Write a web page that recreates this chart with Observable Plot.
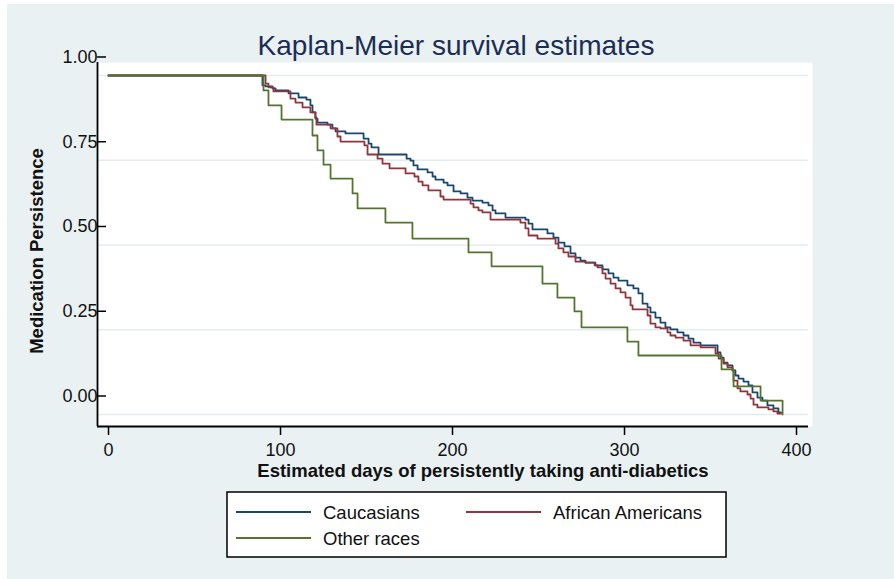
<!DOCTYPE html>
<html><head><meta charset="utf-8">
<script src="https://cdn.jsdelivr.net/npm/d3@7"></script>
<script src="https://cdn.jsdelivr.net/npm/@observablehq/plot@0.6"></script>
<style>
html,body{margin:0;padding:0;background:#fff;}
#bg{position:absolute;left:7px;top:4px;width:887px;height:575px;background:#eaf1f3;}
#chart{position:absolute;left:0;top:0;}
</style></head><body><div id="bg"></div><div id="chart"></div>
<script>
const seriesNames = ["Caucasians", "African Americans", "Other races"];
const seriesColors = ["#1a476f", "#90353b", "#55752f"];
const xTicks = [0, 100, 200, 300, 400];
const yTicks = [0, 0.25, 0.5, 0.75, 1];

const caucasiansDays = [0, 89.5, 91.3, 95.3, 97.1, 104.7, 110.5, 115.1, 117.4, 118.6, 120.3, 121.5, 127.3, 130.2, 132.0, 137.8, 148.3, 151.2, 152.9, 157.0, 173.3, 175.6, 177.3, 179.7, 185.5, 188.4, 190.1, 194.8, 197.1, 200.6, 204.7, 208.7, 211.6, 217.4, 220.9, 223.3, 225.0, 230.8, 242.4, 244.2, 246.5, 255.2, 258.7, 261.6, 265.1, 268.6, 271.5, 274.4, 277.3, 283.1, 287.2, 290.7, 293.6, 296.5, 301.7, 305.2, 308.1, 310.5, 313.4, 315.1, 318.0, 320.9, 323.8, 326.7, 330.8, 334.3, 337.2, 340.1, 344.2, 354.1, 355.8, 357.6, 359.9, 362.8, 364.5, 366.3, 369.2, 372.1, 374.4, 377.3, 380.2, 383.1, 386.6, 389.5, 391.0];
const caucasiansSurv = [1, 0.971, 0.968, 0.962, 0.956, 0.947, 0.935, 0.929, 0.912, 0.891, 0.873, 0.861, 0.855, 0.844, 0.835, 0.829, 0.814, 0.799, 0.788, 0.767, 0.755, 0.749, 0.735, 0.723, 0.714, 0.702, 0.693, 0.684, 0.676, 0.658, 0.652, 0.640, 0.631, 0.625, 0.617, 0.602, 0.593, 0.581, 0.575, 0.563, 0.546, 0.534, 0.522, 0.507, 0.496, 0.475, 0.463, 0.454, 0.448, 0.440, 0.428, 0.416, 0.404, 0.395, 0.381, 0.372, 0.357, 0.327, 0.316, 0.301, 0.286, 0.271, 0.257, 0.251, 0.242, 0.233, 0.224, 0.212, 0.204, 0.183, 0.168, 0.153, 0.145, 0.130, 0.115, 0.106, 0.097, 0.086, 0.065, 0.050, 0.041, 0.027, 0.018, 0.006, 0.006];

const africanDays = [0, 91.3, 93.0, 95.9, 105.8, 108.7, 112.8, 117.4, 120.3, 120.9, 129.1, 133.1, 134.9, 148.8, 150.6, 156.4, 159.3, 163.4, 172.7, 177.9, 180.2, 182.6, 186.0, 193.0, 194.8, 210.5, 212.2, 215.1, 217.4, 222.1, 239.5, 242.4, 244.2, 249.4, 259.9, 261.6, 264.5, 267.4, 271.5, 277.3, 282.6, 284.3, 287.2, 289.0, 291.9, 294.8, 297.7, 300.6, 303.5, 304.7, 313.4, 315.1, 318.0, 320.9, 325.0, 326.7, 329.7, 334.3, 338.4, 344.2, 352.9, 354.7, 357.6, 359.9, 362.8, 363.4, 365.7, 367.4, 371.5, 373.3, 375.0, 377.3, 383.7, 386.6, 388.9, 391.0];
const africanSurv = [1, 0.976, 0.965, 0.953, 0.932, 0.920, 0.906, 0.891, 0.876, 0.855, 0.844, 0.820, 0.805, 0.794, 0.767, 0.755, 0.740, 0.726, 0.711, 0.702, 0.687, 0.676, 0.661, 0.643, 0.634, 0.622, 0.611, 0.602, 0.596, 0.575, 0.566, 0.549, 0.528, 0.519, 0.504, 0.490, 0.478, 0.466, 0.451, 0.448, 0.440, 0.434, 0.416, 0.401, 0.386, 0.372, 0.360, 0.345, 0.322, 0.310, 0.292, 0.268, 0.257, 0.254, 0.242, 0.233, 0.227, 0.218, 0.204, 0.198, 0.180, 0.165, 0.150, 0.139, 0.130, 0.100, 0.077, 0.068, 0.059, 0.047, 0.029, 0.021, 0.015, 0.009, 0.003, 0.003];

const otherDays = [0, 90.1, 93.0, 100.6, 118.6, 121.5, 125.0, 129.1, 141.9, 144.8, 161.0, 176.7, 209.3, 222.7, 252.3, 261.0, 270.9, 275.0, 301.7, 308.1, 356.4, 363.4, 379.1, 391.9];
const otherSurv = [1, 0.956, 0.912, 0.870, 0.823, 0.779, 0.737, 0.696, 0.652, 0.608, 0.566, 0.519, 0.478, 0.437, 0.386, 0.345, 0.304, 0.257, 0.215, 0.174, 0.133, 0.083, 0.041, 0.0];

const toRows = (days, surv, g) => days.map((t, i) => ({t, s: surv[i], g}));
const rowsC = toRows(caucasiansDays, caucasiansSurv, seriesNames[0]);
const rowsA = toRows(africanDays, africanSurv, seriesNames[1]);
const rowsO = toRows(otherDays, otherSurv, seriesNames[2]);

const font = "'Liberation Sans', Arial, Helvetica, sans-serif";
const W = 894, H = 579;
const xDom = [-6.4, 409.3], yDom = [-0.0354, 1.0383];

const plot = Plot.plot({
  width: W, height: H,
  marginLeft: 97, marginRight: 82, marginTop: 62, marginBottom: 153,
  style: {background: "transparent", fontFamily: font, fontSize: "18px", color: "#111", overflow: "visible"},
  x: {domain: xDom},
  y: {domain: yDom},
  marks: [
    Plot.frame({fill: "white", stroke: "none"}),
    Plot.gridY(yTicks, {stroke: "#e4ecf0", strokeOpacity: 1, strokeWidth: 1.5, insetRight: 4}),
    Plot.axisY({ticks: yTicks, tickFormat: d => d.toFixed(2), tickSize: 9, tickPadding: 0, dx: 9, dy: -18.5, fontSize: 18, fill: "#111", stroke: "#000", strokeWidth: 1.5, label: null}),
    Plot.axisX({ticks: xTicks, tickFormat: d => String(d), tickSize: 9, tickPadding: 8, fontSize: 18, fill: "#111", stroke: "#000", strokeWidth: 1.5, label: null}),
    Plot.ruleX([xDom[0]], {stroke: "#000", strokeWidth: 1.8}),
    Plot.ruleY([yDom[0]], {stroke: "#000", strokeWidth: 1.8, insetRight: 4}),
    Plot.line(rowsC, {x: "t", y: "s", curve: "step-after", stroke: seriesColors[0], strokeWidth: 1.8}),
    Plot.line(rowsA, {x: "t", y: "s", curve: "step-after", stroke: seriesColors[1], strokeWidth: 1.8}),
    Plot.line(rowsO, {x: "t", y: "s", curve: "step-after", stroke: seriesColors[2], strokeWidth: 1.8})
  ]
});
document.getElementById("chart").appendChild(plot);

const svg = d3.select(plot);
svg.append("text").attr("x", 456).attr("y", 55).attr("text-anchor", "middle")
  .attr("font-family", font).attr("font-size", 28).attr("fill", "#1c2d55")
  .text("Kaplan-Meier survival estimates");
svg.append("text").attr("transform", "translate(43,251) rotate(-90)").attr("text-anchor", "middle")
  .attr("font-family", font).attr("font-size", 18.5).attr("font-weight", "bold").attr("fill", "#111")
  .text("Medication Persistence");
svg.append("text").attr("x", 483).attr("y", 477).attr("text-anchor", "middle")
  .attr("font-family", font).attr("font-size", 18.5).attr("font-weight", "bold").attr("fill", "#111")
  .text("Estimated days of persistently taking anti-diabetics");

const lg = svg.append("g");
lg.append("rect").attr("x", 227).attr("y", 492).attr("width", 499).attr("height", 65)
  .attr("fill", "white").attr("stroke", "#000").attr("stroke-width", 1.5);
const items = [
  {i: 0, lx: 236, ly: 512, tx: 323},
  {i: 1, lx: 466, ly: 512, tx: 553},
  {i: 2, lx: 236, ly: 538, tx: 323}
];
items.forEach(d => {
  lg.append("line").attr("x1", d.lx).attr("x2", d.lx + 75).attr("y1", d.ly).attr("y2", d.ly)
    .attr("stroke", seriesColors[d.i]).attr("stroke-width", 1.8);
  lg.append("text").attr("x", d.tx).attr("y", d.ly + 6.5).attr("text-anchor", "start")
    .attr("font-family", font).attr("font-size", 18.5).attr("fill", "#111").text(seriesNames[d.i]);
});
</script></body></html>
